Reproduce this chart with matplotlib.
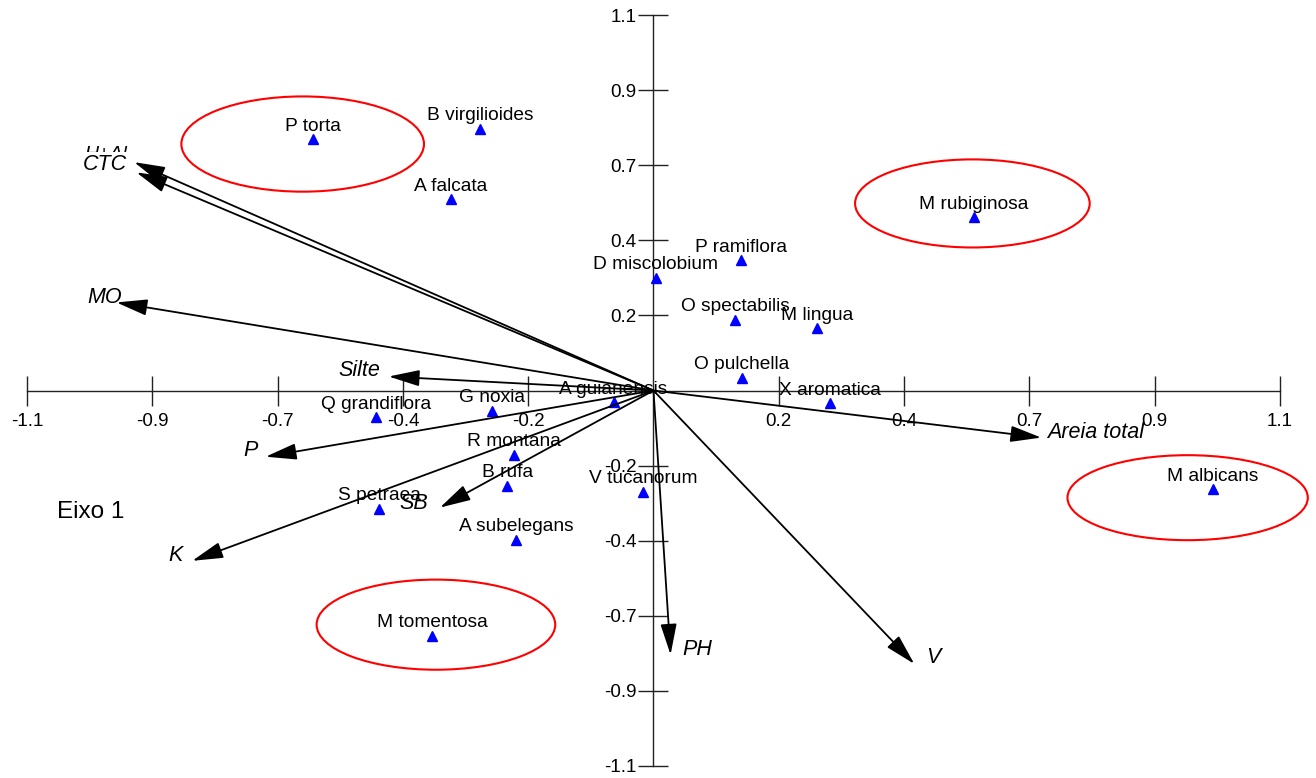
import matplotlib
matplotlib.use('Agg')
import matplotlib.pyplot as plt
from matplotlib.patches import Ellipse
import numpy as np

plt.rcParams['font.family']=['Liberation Sans','DejaVu Sans']

# species scores
species=['P torta','B virgilioides','A falcata','M rubiginosa','P ramiflora','D miscolobium',
         'O spectabilis','M lingua','O pulchella','X aromatica','A guianensis','G noxia',
         'Q grandiflora','R montana','B rufa','V tucanorum','S petraea','A subelegans',
         'M tomentosa','M albicans']
sp_x=[-0.598,-0.304,-0.356,0.563,0.153,0.004,0.144,0.287,0.155,0.310,-0.070,-0.283,
      -0.488,-0.245,-0.257,-0.018,-0.482,-0.241,-0.389,0.982]
sp_y=[0.736,0.766,0.560,0.507,0.381,0.331,0.208,0.182,0.038,-0.038,-0.035,-0.059,
      -0.079,-0.188,-0.279,-0.296,-0.346,-0.437,-0.719,-0.290]

# environmental vectors
env=['H+Al','CTC','MO','Silte','P','SB','K','PH','V','Areia total']
env_x=[-0.912,-0.908,-0.943,-0.465,-0.681,-0.375,-0.810,0.030,0.458,0.681]
env_y=[0.669,0.639,0.258,0.041,-0.194,-0.343,-0.499,-0.774,-0.801,-0.138]
lab_x=[-0.962,-0.964,-0.964,-0.516,-0.708,-0.421,-0.840,0.077,0.491,0.776]
lab_y=[0.690,0.663,0.273,0.059,-0.176,-0.331,-0.484,-0.760,-0.783,-0.123]

# highlighted groups
ell_x=[-0.616,0.560,0.938,-0.382]
ell_y=[0.722,0.548,-0.314,-0.686]
ell_w=[0.426,0.412,0.422,0.419]
ell_h=[0.279,0.258,0.249,0.264]

ticks=[-1.1,-0.88,-0.66,-0.44,-0.22,0.22,0.44,0.66,0.88,1.1]
tick_labels=['-1.1','-0.9','-0.7','-0.4','-0.2','0.2','0.4','0.7','0.9','1.1']

fig=plt.figure(figsize=(13.16,7.78),dpi=100,facecolor='white')
ax=fig.add_axes([0,0,1,1])
ax.set_xlim(-1.1475,1.1634)
ax.set_ylim(-1.1352,1.144)

for s in ['top','right']:
    ax.spines[s].set_visible(False)
ax.spines['left'].set_position(('data',0))
ax.spines['bottom'].set_position(('data',0))
ax.spines['left'].set_bounds(-1.1,1.1)
ax.spines['bottom'].set_bounds(-1.1,1.1)
for s in ['left','bottom']:
    ax.spines[s].set_color('#222222')
    ax.spines[s].set_linewidth(1)
ax.set_xticks(ticks)
ax.set_xticklabels(tick_labels)
ax.set_yticks(ticks)
ax.set_yticklabels(tick_labels)
ax.tick_params(direction='inout',length=22,width=1,color='#222222',labelsize=13.5,pad=1)
ax.tick_params(axis='x',pad=5)

for x,y,w,h in zip(ell_x,ell_y,ell_w,ell_h):
    ax.add_patch(Ellipse((x,y),w,h,fill=False,edgecolor='red',linewidth=1.5,zorder=2))

ax.plot(sp_x,sp_y,'^',color='blue',markersize=7,linestyle='none',zorder=4)
for n,x,y in zip(species,sp_x,sp_y):
    ax.annotate(n,(x,y),xytext=(0,9.5),textcoords='offset points',ha='center',va='center',
                fontsize=13.8,zorder=3)

for i,(n,x,y) in enumerate(zip(env,env_x,env_y)):
    ax.annotate('',xy=(x,y),xytext=(0,0),
                arrowprops=dict(arrowstyle='-|>,head_length=1.9,head_width=0.5',
                                mutation_scale=10,color='k',lw=1.3,shrinkA=0,shrinkB=0),
                zorder=5)
    if n=='CTC':
        # CTC label sits over the H+Al label, as in the original output
        ax.text(lab_x[i],lab_y[i],n,style='italic',fontsize=15.5,ha='center',va='center',
                zorder=6,bbox=dict(facecolor='white',edgecolor='none',pad=1))
    elif n=='H+Al':
        ax.text(lab_x[i],lab_y[i],n,style='italic',fontsize=14,ha='center',va='center',zorder=5)
    else:
        ax.text(lab_x[i],lab_y[i],n,style='italic',fontsize=15.5,ha='center',va='center',zorder=5)

ax.text(-0.989,-0.355,'Eixo 1',fontsize=17.5,ha='center',va='center')

fig.savefig('out.png',dpi=100,facecolor='white')
